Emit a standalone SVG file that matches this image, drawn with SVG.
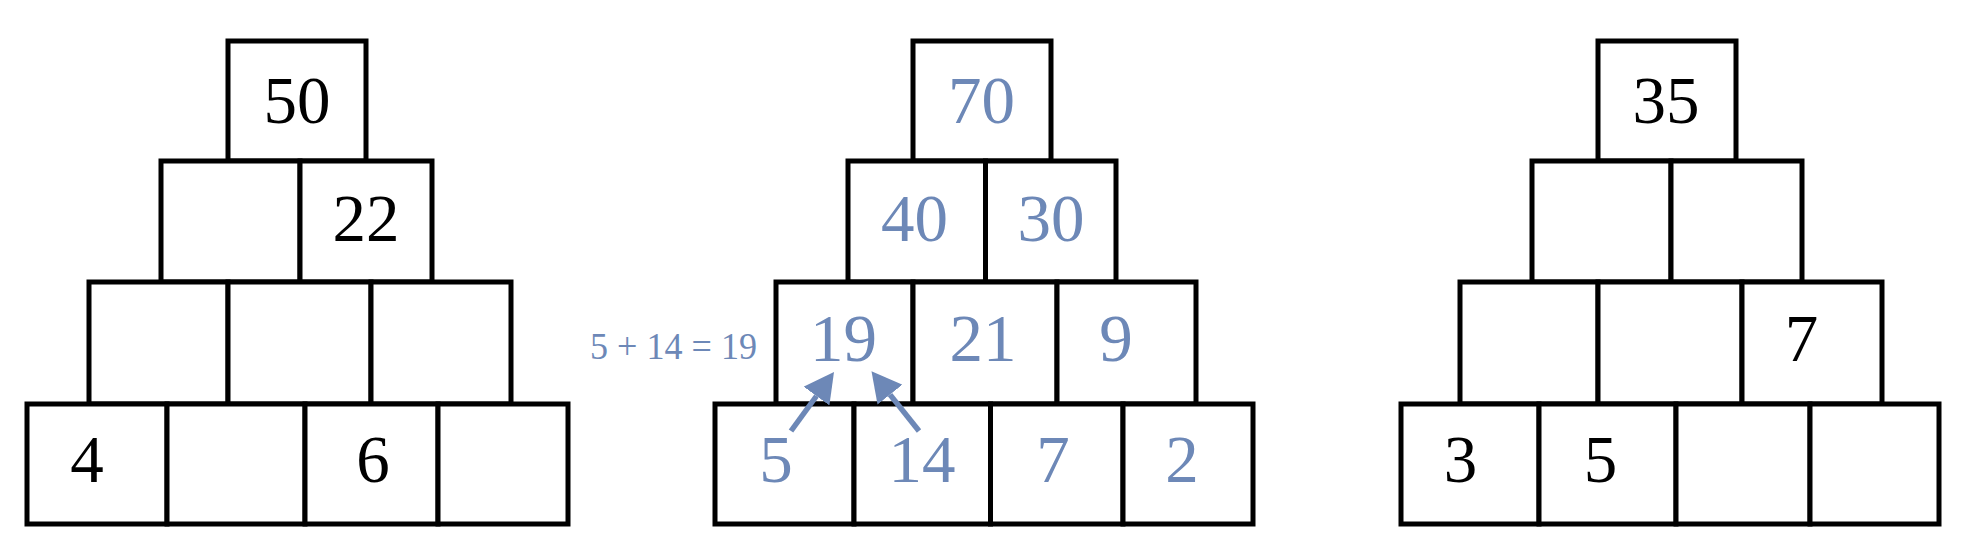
<svg xmlns="http://www.w3.org/2000/svg" width="1966" height="544" viewBox="0 0 1966 544">
<style>
.c{fill:#fff;stroke:#000;stroke-width:5}
.t{font-family:"Liberation Serif","Times New Roman",serif;font-size:67px;text-anchor:middle}
.k{fill:#000}
.b{fill:#6D88B7}
.n{font-family:"Liberation Serif","Times New Roman",serif;font-size:38px;fill:#6D88B7}
.a{stroke:#6D88B7;stroke-width:5.5;fill:none}
</style>
<defs>
<marker id="ah" viewBox="0 0 10 10" refX="0" refY="5" markerWidth="5.4" markerHeight="5.8" orient="auto" markerUnits="strokeWidth" preserveAspectRatio="none">
<path d="M0,0 L10,5 L0,10 z" fill="#6D88B7"/>
</marker>
</defs>
<rect width="1966" height="544" fill="#fff"/>

<g id="pyramid1">
<g id="p1-r1c1"><rect class="c" x="228" y="41" width="138" height="120"/><text class="t k" x="297" y="123">50</text></g>
<g id="p1-r2c1"><rect class="c" x="161" y="161" width="139" height="121"/></g>
<g id="p1-r2c2"><rect class="c" x="300" y="161" width="132" height="121"/><text class="t k" x="366" y="241">22</text></g>
<g id="p1-r3c1"><rect class="c" x="89" y="282" width="139" height="122"/></g>
<g id="p1-r3c2"><rect class="c" x="228" y="282" width="143" height="122"/></g>
<g id="p1-r3c3"><rect class="c" x="371" y="282" width="140" height="122"/></g>
<g id="p1-r4c1"><rect class="c" x="27" y="404" width="140" height="120"/><text class="t k" x="87" y="482">4</text></g>
<g id="p1-r4c2"><rect class="c" x="167" y="404" width="138" height="120"/></g>
<g id="p1-r4c3"><rect class="c" x="305" y="404" width="133" height="120"/><text class="t k" x="373" y="482">6</text></g>
<g id="p1-r4c4"><rect class="c" x="438" y="404" width="130" height="120"/></g>
</g>

<g id="pyramid2">
<g id="p2-r1c1"><rect class="c" x="913" y="41" width="138" height="120"/><text class="t b" x="981.5" y="123">70</text></g>
<g id="p2-r2c1"><rect class="c" x="848" y="161" width="137.5" height="121"/><text class="t b" x="914.5" y="241">40</text></g>
<g id="p2-r2c2"><rect class="c" x="985.5" y="161" width="130.5" height="121"/><text class="t b" x="1051" y="241">30</text></g>
<g id="p2-r3c1"><rect class="c" x="776" y="282" width="137" height="122"/><text class="t b" x="843.5" y="361">19</text></g>
<g id="p2-r3c2"><rect class="c" x="913" y="282" width="144" height="122"/><text class="t b" x="983" y="361">21</text></g>
<g id="p2-r3c3"><rect class="c" x="1057" y="282" width="139" height="122"/><text class="t b" x="1116" y="361">9</text></g>
<g id="p2-r4c1"><rect class="c" x="715" y="404" width="139" height="120"/><text class="t b" x="776" y="482">5</text></g>
<g id="p2-r4c2"><rect class="c" x="854" y="404" width="136.5" height="120"/><text class="t b" x="922" y="482">14</text></g>
<g id="p2-r4c3"><rect class="c" x="990.5" y="404" width="132.5" height="120"/><text class="t b" x="1053" y="482">7</text></g>
<g id="p2-r4c4"><rect class="c" x="1123" y="404" width="130" height="120"/><text class="t b" x="1182" y="482">2</text></g>
</g>

<g id="annotation"><text class="n" x="590" y="359" textLength="167" lengthAdjust="spacingAndGlyphs">5 + 14 = 19</text></g>

<g id="pyramid3">
<g id="p3-r1c1"><rect class="c" x="1598" y="41" width="138" height="120"/><text class="t k" x="1666" y="123">35</text></g>
<g id="p3-r2c1"><rect class="c" x="1532" y="161" width="139" height="121"/></g>
<g id="p3-r2c2"><rect class="c" x="1671" y="161" width="131" height="121"/></g>
<g id="p3-r3c1"><rect class="c" x="1460" y="282" width="138" height="122"/></g>
<g id="p3-r3c2"><rect class="c" x="1598" y="282" width="144" height="122"/></g>
<g id="p3-r3c3"><rect class="c" x="1742" y="282" width="140" height="122"/><text class="t k" x="1801.5" y="361">7</text></g>
<g id="p3-r4c1"><rect class="c" x="1401" y="404" width="138" height="120"/><text class="t k" x="1460.5" y="482">3</text></g>
<g id="p3-r4c2"><rect class="c" x="1539" y="404" width="137" height="120"/><text class="t k" x="1600.5" y="482">5</text></g>
<g id="p3-r4c3"><rect class="c" x="1676" y="404" width="134" height="120"/></g>
<g id="p3-r4c4"><rect class="c" x="1810" y="404" width="129" height="120"/></g>
</g>

<g id="connectors">
<line class="a" x1="791" y1="431" x2="816.5" y2="396" marker-end="url(#ah)"/>
<line class="a" x1="919" y1="431" x2="890" y2="394.6" marker-end="url(#ah)"/>
</g>
</svg>
